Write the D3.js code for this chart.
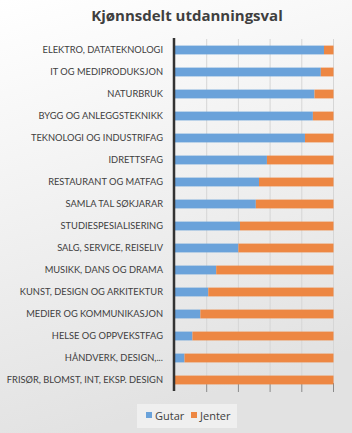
<!DOCTYPE html>
<html>
<head>
<meta charset="utf-8">
<script src="https://cdn.jsdelivr.net/npm/d3@7"></script>
<style>
  html, body { margin: 0; padding: 0; }
  body { width: 352px; height: 433px; overflow: hidden; }
</style>
</head>
<body>
<svg id="chart" width="352" height="433"></svg>
<script>
// data
const categories = [
  'ELEKTRO, DATATEKNOLOGI',
  'IT OG MEDIPRODUKSJON',
  'NATURBRUK',
  'BYGG OG ANLEGGSTEKNIKK',
  'TEKNOLOGI OG INDUSTRIFAG',
  'IDRETTSFAG',
  'RESTAURANT OG MATFAG',
  'SAMLA TAL SØKJARAR',
  'STUDIESPESIALISERING',
  'SALG, SERVICE, REISELIV',
  'MUSIKK, DANS OG DRAMA',
  'KUNST, DESIGN OG ARKITEKTUR',
  'MEDIER OG KOMMUNIKASJON',
  'HELSE OG OPPVEKSTFAG',
  'HÅNDVERK, DESIGN,...',
  'FRISØR, BLOMST, INT, EKSP. DESIGN'
]
const gutar = [94, 92, 88, 87, 82, 58, 53, 51, 41, 40, 26, 21, 16, 11, 6, 0]
const jenter = [6, 8, 12, 13, 18, 42, 47, 49, 59, 60, 74, 79, 84, 89, 94, 100]
const ticks = [0, 20, 40, 60, 80, 100]
const seriesNames = ['Gutar', 'Jenter']
const colors = ['#6aa2da', '#ed8743']

const svg = d3.select('#chart')
const W = 352
const H = 433

// bakgrunn
const defs = svg.append('defs')
const grad = defs.append('linearGradient')
  .attr('id', 'bg')
  .attr('x1', 0).attr('y1', 0).attr('x2', 0.25).attr('y2', 1)
grad.append('stop').attr('offset', '0%').attr('stop-color', '#ffffff')
grad.append('stop').attr('offset', '100%').attr('stop-color', '#e2e2e2')
svg.append('rect').attr('width', W).attr('height', H).attr('fill', 'url(#bg)')

// tittel
svg.append('text')
  .text('Kjønnsdelt utdanningsval')
  .attr('x', 187)
  .attr('y', 21)
  .attr('text-anchor', 'middle')
  .attr('font-family', 'Open Sans')
  .attr('font-weight', 'bold')
  .attr('font-size', '15px')
  .attr('fill', '#3f3f3f')

const x = d3.scaleLinear().domain([0, 100]).range([175, 333.5])
const y = d3.scaleBand().domain(categories).range([39, 391]).paddingInner(0.6).paddingOuter(0.3)

// gitterlinjer
svg.append('g')
  .selectAll('line')
  .data(ticks.slice(1))
  .enter()
  .append('line')
  .attr('x1', d => x(d))
  .attr('x2', d => x(d))
  .attr('y1', 39)
  .attr('y2', 383)
  .attr('stroke', '#d6d6d6')
  .attr('stroke-width', 1)

// små merke under
svg.append('g')
  .selectAll('line')
  .data(ticks.slice(1))
  .enter()
  .append('line')
  .attr('x1', d => x(d))
  .attr('x2', d => x(d))
  .attr('y1', 383)
  .attr('y2', 392)
  .attr('stroke', '#8a8a8a')
  .attr('stroke-width', 1)

// stablar
const rows = categories.map((c, i) => ({ name: c, Gutar: gutar[i], Jenter: jenter[i] }))
const stack = d3.stack().keys(seriesNames)(rows)

svg.append('g')
  .selectAll('g')
  .data(stack)
  .enter()
  .append('g')
  .attr('fill', (d, i) => colors[i])
  .selectAll('rect')
  .data(d => d)
  .enter()
  .append('rect')
  .attr('x', d => x(d[0]))
  .attr('width', d => x(d[1]) - x(d[0]))
  .attr('y', d => y(d.data.name))
  .attr('height', y.bandwidth())

// y-akse
const yAxis = svg.append('g')
  .attr('transform', 'translate(174,0)')
  .call(d3.axisLeft(y).tickSize(0).tickPadding(11))
yAxis.select('.domain')
  .attr('d', 'M0,38V391')
  .attr('stroke', '#333')
  .attr('stroke-width', 2.5)
yAxis.selectAll('text')
  .attr('font-family', 'Lato')
  .attr('font-size', '9.3px')
  .attr('fill', '#404040')

// legende
const legend = svg.append('g').attr('transform', 'translate(137,404)')
legend.append('rect')
  .attr('width', 100)
  .attr('height', 24)
  .attr('fill', '#efefef')
const items = legend.selectAll('g.item')
  .data(seriesNames)
  .enter()
  .append('g')
  .attr('class', 'item')
  .attr('transform', (d, i) => `translate(${i === 0 ? 9 : 54},0)`)
items.append('rect')
  .attr('y', 8)
  .attr('width', 6)
  .attr('height', 6)
  .attr('fill', (d, i) => colors[i])
items.append('text')
  .text(d => d)
  .attr('x', 9)
  .attr('y', 15.5)
  .attr('font-family', 'Open Sans')
  .attr('font-size', '11px')
  .attr('fill', '#404040')
</script>
</body>
</html>
